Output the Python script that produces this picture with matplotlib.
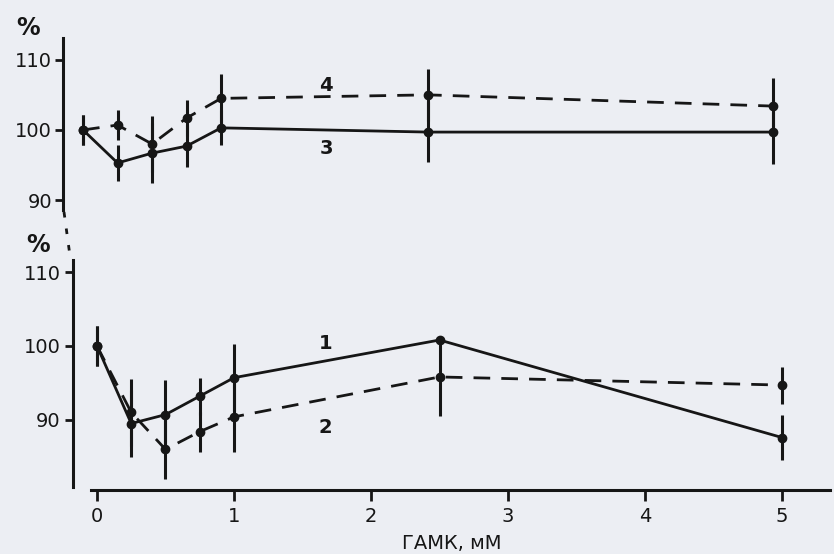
import numpy as np
import matplotlib
matplotlib.use('Agg')
import matplotlib.pyplot as plt
from matplotlib.lines import Line2D

# концентрация ГАМК, мМ
conc = [0, 0.25, 0.5, 0.75, 1, 2.5, 5]

# верхняя панель
curve3 = [100, 95.3, 96.7, 97.7, 100.3, 99.7, 99.7]
err3 = [2.1, 2.5, 4.3, 3.0, 2.5, 4.3, 4.6]
curve4 = [100, 100.7, 98.0, 101.7, 104.5, 105.0, 103.4]
err4 = [2.1, 2.1, 4.0, 2.6, 3.5, 3.7, 4.0]

# нижняя панель
curve1 = [100, 89.5, 90.7, 93.2, 95.7, 100.8, 87.6]
err1 = [2.7, 4.5, 4.7, 2.5, 4.5, 0.4, 3.0]
curve2 = [100, 91.0, 86.0, 88.4, 90.4, 95.8, 94.7]
err2 = [2.7, 4.5, 4.0, 2.7, 4.7, 5.3, 2.5]

yticks = [90, 100, 110]
xticks = [0, 1, 2, 3, 4, 5]

ink = '#161616'
paper = '#eceef3'
W, H = 834, 554

plt.rcParams['font.family'] = ['DejaVu Sans']

fig = plt.figure(figsize=(W / 100, H / 100), dpi=100, facecolor=paper)


def px_axes(l, t, r, b):
    return fig.add_axes([l / W, 1 - b / H, (r - l) / W, (b - t) / H])


def draw(ax, y, e, ls):
    ax.errorbar(conc, y, yerr=e, color=ink, ls=ls, lw=2.0, marker='o', ms=6,
                elinewidth=2.2, capsize=0)


# верх
ax1 = px_axes(63, 38, 830, 210)
ax1.set_facecolor('none')
ax1.set_xlim(-0.145, 5.41)
ax1.set_ylim(88.6, 113.1)
draw(ax1, curve3, err3, '-')
draw(ax1, curve4, err4, (0, (6, 4)))
ax1.text(1.76, 106.3, '4', fontsize=14, fontweight='bold', color=ink, ha='center', va='center')
ax1.text(1.76, 97.4, '3', fontsize=14, fontweight='bold', color=ink, ha='center', va='center')
for s in ['top', 'right', 'bottom']:
    ax1.spines[s].set_visible(False)
ax1.spines['left'].set_linewidth(2.2)
ax1.spines['left'].set_color(ink)
ax1.set_xticks([])
ax1.set_yticks(yticks)
ax1.tick_params(axis='y', length=6, width=2, pad=2, labelsize=14, colors=ink)

# низ
ax2 = px_axes(73, 258, 830, 490)
ax2.set_facecolor('none')
ax2.set_xlim(-0.175, 5.35)
ax2.set_ylim(80.5, 111.9)
draw(ax2, curve1, err1, '-')
draw(ax2, curve2, err2, (0, (6, 4)))
ax2.text(1.67, 100.3, '1', fontsize=14, fontweight='bold', color=ink, ha='center', va='center')
ax2.text(1.67, 89.0, '2', fontsize=14, fontweight='bold', color=ink, ha='center', va='center')
for s in ['top', 'right']:
    ax2.spines[s].set_visible(False)
for s in ['left', 'bottom']:
    ax2.spines[s].set_linewidth(2.2)
    ax2.spines[s].set_color(ink)
ax2.spines['left'].set_bounds(80.9, 111.6)
ax2.spines['bottom'].set_bounds(-0.04, 5.35)
ax2.set_yticks(yticks)
ax2.set_xticks(xticks)
ax2.tick_params(axis='y', length=6, width=2, pad=3, labelsize=14, colors=ink)
ax2.tick_params(axis='x', length=8, width=2, pad=4, labelsize=14, colors=ink)
ax2.set_xlabel('ГАМК, мМ', fontsize=14, color=ink, labelpad=6)

# подписи %
fig.text(28 / W, 1 - 28 / H, '%', fontsize=17, fontweight='bold', color=ink, ha='center', va='center')
fig.text(38 / W, 1 - 245 / H, '%', fontsize=17, fontweight='bold', color=ink, ha='center', va='center')

# разрыв оси
fig.add_artist(Line2D([64 / W, 70 / W], [1 - 212 / H, 1 - 256 / H], color=ink, lw=2,
                      ls=(0, (2, 4))))

fig.savefig('out.png', dpi=100, facecolor=paper)
